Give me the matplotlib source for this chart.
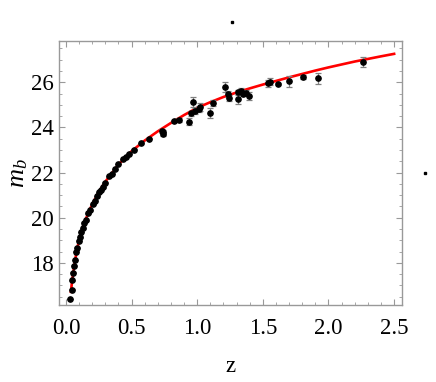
import matplotlib
matplotlib.use('Agg')
import matplotlib.pyplot as plt
from matplotlib.lines import Line2D
from matplotlib.ticker import MultipleLocator

# supernova data (z, m_b, error)
z_data = [0.033, 0.043, 0.048, 0.056, 0.063, 0.071, 0.079, 0.086, 0.097, 0.104,
          0.117, 0.127, 0.14, 0.15, 0.17, 0.183, 0.206, 0.218, 0.234, 0.252,
          0.264, 0.28, 0.297, 0.325, 0.348, 0.373, 0.40, 0.432, 0.455, 0.48,
          0.52, 0.574, 0.633, 0.734, 0.737, 0.737, 0.826, 0.859, 0.937, 0.955,
          0.97, 0.98, 1.015, 1.021, 1.098, 1.123, 1.21, 1.234, 1.24, 1.309,
          1.313, 1.33, 1.347, 1.375, 1.395, 1.542, 1.553, 1.616, 1.70, 1.806,
          1.918, 2.266]
m_data = [16.40, 16.82, 17.23, 17.57, 17.88, 18.13, 18.49, 18.67, 18.98, 19.13,
          19.37, 19.53, 19.79, 19.88, 20.19, 20.34, 20.59, 20.75, 20.96, 21.12,
          21.25, 21.35, 21.55, 21.84, 21.96, 22.14, 22.38, 22.59, 22.70, 22.83,
          23.01, 23.29, 23.50, 23.85, 23.78, 23.70, 24.27, 24.34, 24.25, 24.62,
          25.14, 24.73, 24.82, 24.90, 24.64, 25.08, 25.78, 25.48, 25.30, 25.55,
          25.26, 25.63, 25.50, 25.54, 25.40, 25.95, 26.03, 25.94, 26.04, 26.23,
          26.18, 26.90]
err_data = [0.02, 0.02, 0.02, 0.02, 0.02, 0.02, 0.02, 0.02, 0.02, 0.02,
            0.02, 0.02, 0.02, 0.02, 0.02, 0.02, 0.02, 0.02, 0.02, 0.02,
            0.02, 0.02, 0.02, 0.02, 0.02, 0.02, 0.02, 0.02, 0.02, 0.02,
            0.03, 0.03, 0.03, 0.08, 0.10, 0.10, 0.05, 0.08, 0.15, 0.12,
            0.22, 0.12, 0.12, 0.18, 0.20, 0.15, 0.22, 0.15, 0.15, 0.12,
            0.20, 0.12, 0.12, 0.10, 0.18, 0.15, 0.15, 0.05, 0.25, 0.08,
            0.25, 0.22]

# best-fit curve
z_fit = [0.038, 0.045, 0.05, 0.06, 0.07, 0.08, 0.10, 0.12, 0.15, 0.20, 0.25,
         0.30, 0.40, 0.50, 0.60, 0.70, 0.80, 0.90, 1.00, 1.10, 1.20, 1.30,
         1.40, 1.50, 1.60, 1.70, 1.80, 1.90, 2.00, 2.20, 2.40, 2.50]
m_fit = [16.72, 17.10, 17.32, 17.75, 18.12, 18.45, 19.02, 19.45, 19.93, 20.60,
         21.14, 21.60, 22.36, 22.95, 23.42, 23.83, 24.20, 24.55, 24.87, 25.12,
         25.35, 25.55, 25.73, 25.90, 26.06, 26.22, 26.37, 26.52, 26.66, 26.92,
         27.15, 27.26]

plt.rcParams['font.family'] = ['Liberation Serif', 'DejaVu Serif']
plt.rcParams['mathtext.fontset'] = 'custom'
plt.rcParams['mathtext.rm'] = 'Liberation Serif'
plt.rcParams['mathtext.it'] = 'Liberation Serif:italic'

fig = plt.figure(figsize=(4.36, 3.82), dpi=100)
ax = fig.add_axes([0.1353, 0.2024, 0.7867, 0.6903])

ax.plot(z_fit, m_fit, color='#ff0000', lw=1.9, zorder=2)
ax.errorbar(z_data, m_data, yerr=err_data, fmt='o', color='black', ms=3.8,
            ecolor='#808080', elinewidth=0.9, capsize=2.2, capthick=0.9, zorder=3)

ax.set_xlim(-0.053, 2.56)
ax.set_ylim(16.15, 27.83)
ax.xaxis.set_major_locator(MultipleLocator(0.5))
ax.xaxis.set_minor_locator(MultipleLocator(0.1))
ax.yaxis.set_major_locator(MultipleLocator(2))
ax.yaxis.set_minor_locator(MultipleLocator(0.5))
ax.set_xticks([0.0, 0.5, 1.0, 1.5, 2.0, 2.5])
ax.set_xticklabels(['0.0', '0.5', '1.0', '1.5', '2.0', '2.5'])

for s in ax.spines.values():
    s.set_color('#999999')
    s.set_linewidth(1.0)
ax.tick_params(which='both', direction='in', top=True, right=True, color='#999999',
               labelsize=16.5)
ax.tick_params(which='major', length=4.5, width=0.8)
ax.tick_params(which='minor', length=2.5, width=0.6)
ax.tick_params(axis='x', which='major', pad=9.5)
ax.tick_params(axis='y', which='major', pad=4)

ax.set_xlabel('z', fontsize=16.5, labelpad=12)
ax.set_ylabel('$m_b$', fontsize=19, labelpad=0.5)

# stray dots present in the original image
fig.add_artist(Line2D([232 / 436], [1 - 22 / 382], transform=fig.transFigure,
                      marker='s', ms=1.8, color='black', lw=0))
fig.add_artist(Line2D([425 / 436], [1 - 173 / 382], transform=fig.transFigure,
                      marker='s', ms=1.8, color='black', lw=0))

fig.savefig('out.png', dpi=100)
